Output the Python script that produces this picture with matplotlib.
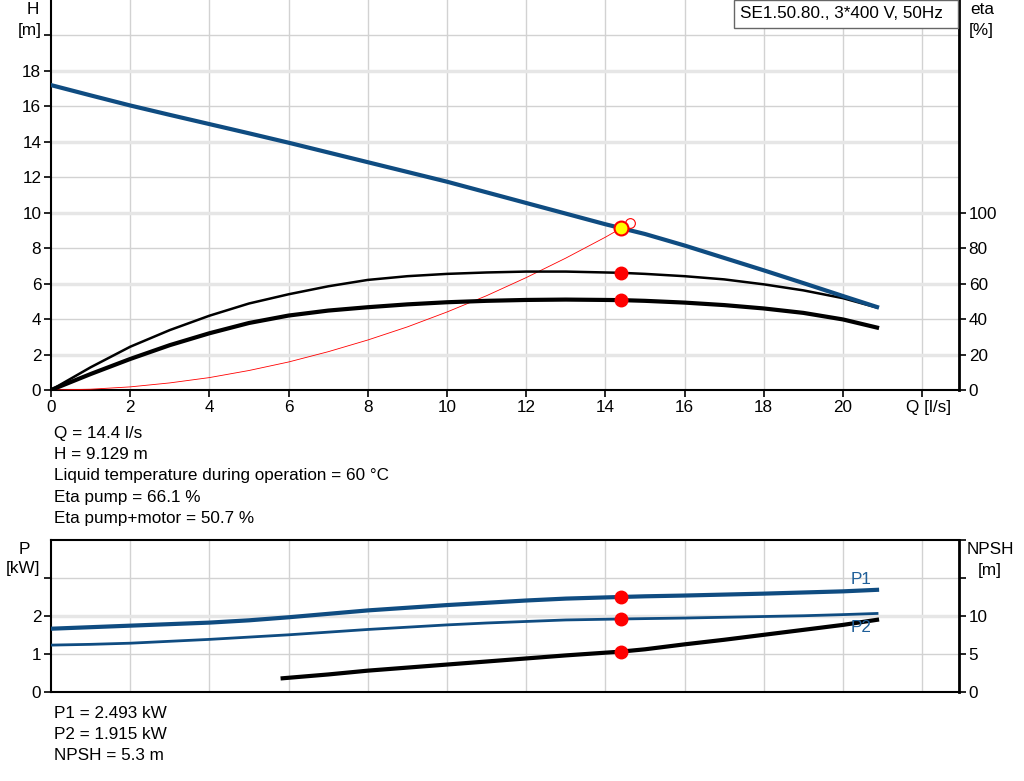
import matplotlib
matplotlib.use("Agg")
import matplotlib.pyplot as plt
from matplotlib.patches import Rectangle
import numpy as np

plt.rcParams['font.family'] = ['Liberation Sans', 'DejaVu Sans']

# ---------------- data ----------------
q_h = [0, 1, 2, 3, 4, 5, 6, 7, 8, 9, 10, 11, 12, 13, 14, 14.4, 15, 16, 17, 18, 19, 20, 20.86]
h_vals = [17.2, 16.62, 16.05, 15.52, 15.0, 14.48, 13.95, 13.4, 12.85, 12.3, 11.75, 11.15,
          10.55, 9.95, 9.35, 9.13, 8.8, 8.15, 7.45, 6.75, 6.03, 5.3, 4.68]

q_eta = [0, 1, 2, 3, 4, 5, 6, 7, 8, 9, 10, 11, 12, 13, 14, 14.4, 15, 16, 17, 18, 19, 20, 20.86]
eta_pump = [0, 12.8, 24.4, 33.8, 41.9, 48.8, 54.0, 58.5, 62.1, 64.2, 65.5, 66.3, 66.8, 66.8,
            66.3, 66.1, 65.5, 64.2, 62.4, 59.6, 56.2, 51.8, 46.5]
eta_total = [0, 9.0, 17.5, 25.3, 32.0, 37.8, 42.0, 44.8, 46.7, 48.3, 49.5, 50.3, 50.8, 51.0,
             50.8, 50.7, 50.3, 49.3, 47.9, 46.0, 43.5, 39.8, 35.2]

q_sys = [0, 1, 2, 3, 4, 5, 6, 7, 8, 9, 10, 11, 12, 13, 14, 14.4, 14.55]
h_sys = [0, 0.044, 0.176, 0.40, 0.70, 1.10, 1.58, 2.16, 2.82, 3.56, 4.40, 5.32, 6.34, 7.44,
         8.62, 9.13, 9.32]

q_p = [0, 1, 2, 3, 4, 5, 6, 7, 8, 9, 10, 11, 12, 13, 14.4, 15, 16, 17, 18, 19, 20, 20.86]
p1_vals = [1.66, 1.70, 1.74, 1.78, 1.82, 1.88, 1.96, 2.05, 2.14, 2.21, 2.28, 2.34, 2.40, 2.45,
           2.493, 2.51, 2.53, 2.555, 2.58, 2.61, 2.64, 2.68]
p2_vals = [1.23, 1.25, 1.28, 1.33, 1.38, 1.44, 1.50, 1.57, 1.64, 1.70, 1.76, 1.81, 1.85, 1.89,
           1.915, 1.925, 1.94, 1.96, 1.98, 2.00, 2.03, 2.06]

q_npsh = [5.85, 7, 8, 9, 10, 11, 12, 13, 14.4, 15, 16, 17, 18, 19, 20, 20.86]
npsh_vals = [1.8, 2.3, 2.8, 3.2, 3.6, 4.0, 4.4, 4.8, 5.3, 5.6, 6.25, 6.85, 7.5, 8.15, 8.8, 9.47]

op_q = 14.4
op_h = 9.129
op_eta_pump = 66.1
op_eta_total = 50.7
op_p1 = 2.493
op_p2 = 1.915
op_npsh = 5.3
open_q, open_h = 14.62, 9.44

x_ticks = [0, 2, 4, 6, 8, 10, 12, 14, 16, 18, 20, 22]
x_labels = ['0', '2', '4', '6', '8', '10', '12', '14', '16', '18', '20', '']
h_ticks = [0, 2, 4, 6, 8, 10, 12, 14, 16, 18, 20]
h_labels = ['0', '2', '4', '6', '8', '10', '12', '14', '16', '18', '']
eta_ticks = [0, 20, 40, 60, 80, 100]
p_ticks = [0, 1, 2, 3]
p_labels = ['0', '1', '2', '']
npsh_ticks = [0, 5, 10, 15, 20]
npsh_labels = ['0', '5', '10', '', '']

title_text = "SE1.50.80., 3*400 V, 50Hz"
info_top = ["Q = 14.4 l/s", "H = 9.129 m",
            "Liquid temperature during operation = 60 \u00b0C",
            "Eta pump = 66.1 %", "Eta pump+motor = 50.7 %"]
info_bot = ["P1 = 2.493 kW", "P2 = 1.915 kW", "NPSH = 5.3 m"]

BLUE = '#0f4c81'
GRID = '#d2d2d2'
GRID_L = '#e6e6e6'
FS = 12.3

fig = plt.figure(figsize=(10.24, 7.81), dpi=100)
W, Hh = 1024, 781
L, R = 51 / W, 959 / W
ax = fig.add_axes([L, 1 - 390 / Hh, R - L, 390 / Hh])
axb = fig.add_axes([L, 1 - 692 / Hh, R - L, (692 - 539.5) / Hh])

XMAX = 22.93

# ---------- top axes ----------
ax.set_xlim(0, XMAX)
ax.set_ylim(0, 22)
for g in [2, 4, 6, 8, 10, 12, 14, 16, 18, 20, 22]:
    ax.axvline(g, color=GRID, lw=1.0, zorder=0)
for g in [4, 8, 12, 16, 20]:
    ax.axhline(g, color=GRID, lw=1.0, zorder=0)
for g in [2, 6, 10, 14, 18]:
    ax.axhline(g, color=GRID_L, lw=2.5, zorder=0)

ax.plot(q_sys, h_sys, color='red', lw=0.6, zorder=3)
ax.plot(q_eta, np.array(eta_pump) / 10, color='black', lw=1.8, zorder=3)
ax.plot(q_eta, np.array(eta_total) / 10, color='black', lw=3.0, zorder=3)
ax.plot(q_h, h_vals, color=BLUE, lw=3.0, zorder=4)
ax.plot([op_q], [op_eta_pump / 10], 'o', color='red', ms=9, zorder=5)
ax.plot([op_q], [op_eta_total / 10], 'o', color='red', ms=9, zorder=5)
ax.plot([open_q], [open_h], 'o', mfc='none', mec='red', ms=7, mew=0.8, zorder=5)
ax.plot([op_q], [op_h], 'o', mfc='yellow', mec='red', ms=10, mew=1.5, zorder=6)

ax.set_xticks(x_ticks)
ax.set_xticklabels(x_labels, fontsize=FS)
ax.set_yticks(h_ticks)
ax.set_yticklabels(h_labels, fontsize=FS)
ax.tick_params(direction='out', length=5, width=1.2, pad=2)
for s in ['left', 'bottom']:
    ax.spines[s].set_linewidth(1.5)
ax.spines['top'].set_visible(False)
ax.spines['right'].set_visible(False)
ax.text(22.15, -0.55, "Q [l/s]", ha='center', va='top', fontsize=FS)

ax2 = ax.twinx()
ax2.set_ylim(0, 220)
ax2.set_yticks(eta_ticks)
ax2.set_yticklabels([str(t) for t in eta_ticks], fontsize=FS)
ax2.tick_params(direction='out', length=5, width=1.2, pad=2)
ax2.spines['right'].set_linewidth(2.0)
for s in ['top', 'left', 'bottom']:
    ax2.spines[s].set_visible(False)

# title box
fig.patches.append(Rectangle((734 / W, 1 - 28 / Hh), (958 - 734) / W, 28 / Hh,
                             transform=fig.transFigure, fc='white', ec='#666666',
                             lw=1.0, zorder=20))
fig.text(740 / W, 1 - 14 / Hh, title_text, ha='left', va='center', fontsize=FS, zorder=21)

fig.text(33 / W, 1 - 10 / Hh, "H", ha='center', va='center', fontsize=FS)
fig.text(30 / W, 1 - 30 / Hh, "[m]", ha='center', va='center', fontsize=FS)
fig.text(982 / W, 1 - 10 / Hh, "eta", ha='center', va='center', fontsize=FS)
fig.text(981 / W, 1 - 30 / Hh, "[%]", ha='center', va='center', fontsize=FS)

for i, t in enumerate(info_top):
    fig.text(54 / W, 1 - (433 + i * 21.5) / Hh, t, ha='left', va='center', fontsize=FS)

# ---------- bottom axes ----------
axb.set_xlim(0, XMAX)
axb.set_ylim(0, 4)
for g in [2, 4, 6, 8, 10, 12, 14, 16, 18, 20, 22]:
    axb.axvline(g, color=GRID, lw=1.0, zorder=0)
for g in [1, 3]:
    axb.axhline(g, color=GRID, lw=1.0, zorder=0)
axb.axhline(2, color=GRID_L, lw=2.5, zorder=0)

axb.plot(q_p, p1_vals, color=BLUE, lw=3.0, zorder=3)
axb.plot(q_p, p2_vals, color=BLUE, lw=2.0, zorder=3)
axb.plot(q_npsh, np.array(npsh_vals) / 5, color='black', lw=3.0, zorder=3)
axb.plot([op_q], [op_p1], 'o', color='red', ms=9, zorder=5)
axb.plot([op_q], [op_p2], 'o', color='red', ms=9, zorder=5)
axb.plot([op_q], [op_npsh / 5], 'o', color='red', ms=9, zorder=5)

axb.text(20.45, 2.95, "P1", ha='center', va='center', fontsize=FS, color='#1f5f99')
axb.text(20.45, 1.68, "P2", ha='center', va='center', fontsize=FS, color='#1f5f99')

axb.set_xticks(x_ticks)
axb.set_xticklabels([])
axb.tick_params(axis='x', length=0)
axb.set_yticks(p_ticks)
axb.set_yticklabels(p_labels, fontsize=FS)
axb.tick_params(axis='y', direction='out', length=5, width=1.2, pad=2)
for s in ['left', 'bottom', 'top']:
    axb.spines[s].set_linewidth(1.5)
axb.spines['right'].set_visible(False)

axb2 = axb.twinx()
axb2.set_ylim(0, 20)
axb2.set_yticks(npsh_ticks)
axb2.set_yticklabels(npsh_labels, fontsize=FS)
axb2.tick_params(direction='out', length=5, width=1.2, pad=2)
axb2.spines['right'].set_linewidth(2.0)
for s in ['top', 'left', 'bottom']:
    axb2.spines[s].set_visible(False)

fig.text(24 / W, 1 - 549 / Hh, "P", ha='center', va='center', fontsize=FS)
fig.text(23 / W, 1 - 569 / Hh, "[kW]", ha='center', va='center', fontsize=FS)
fig.text(990 / W, 1 - 549 / Hh, "NPSH", ha='center', va='center', fontsize=FS)
fig.text(990 / W, 1 - 570 / Hh, "[m]", ha='center', va='center', fontsize=FS)

for i, t in enumerate(info_bot):
    fig.text(54 / W, 1 - (713 + i * 21.5) / Hh, t, ha='left', va='center', fontsize=FS)

fig.savefig("out.png", dpi=100)
